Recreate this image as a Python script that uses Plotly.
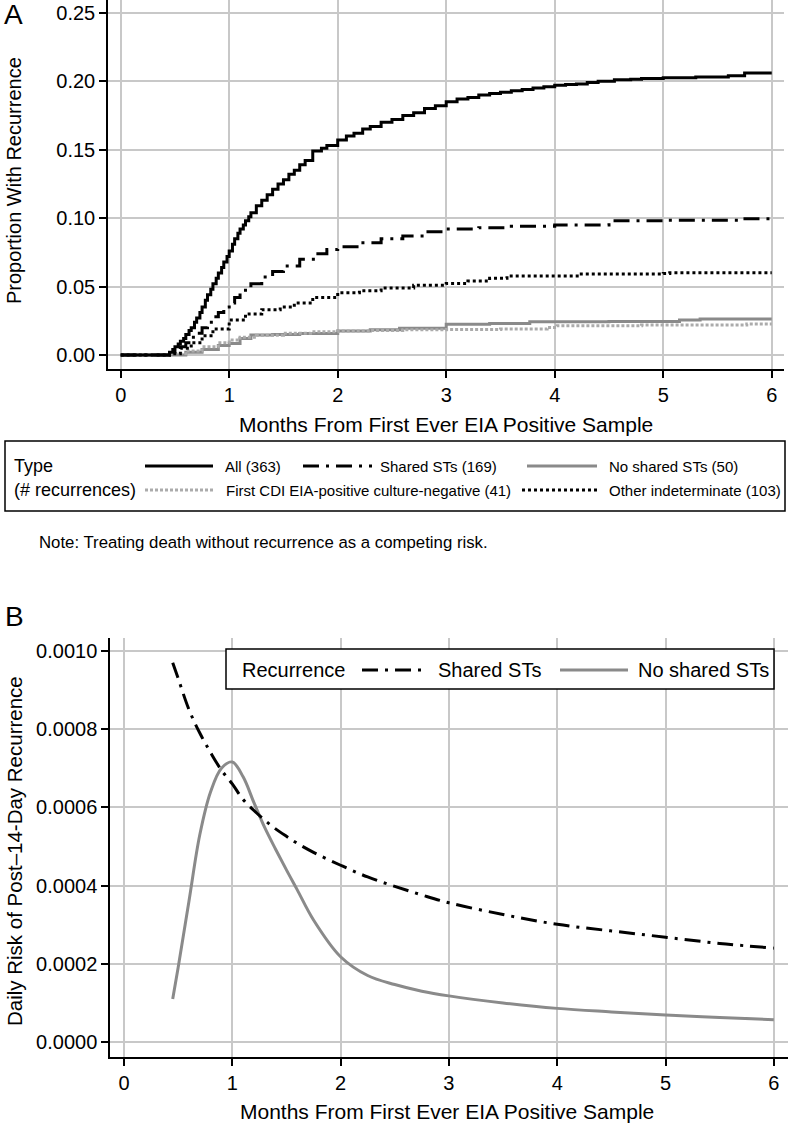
import plotly.graph_objects as go

W, H = 788, 1123

# ---------------- Panel A data (cumulative incidence, step curves) ----------------
all_t = [0, 0.45, 0.48, 0.5, 0.53, 0.55, 0.58, 0.6, 0.63, 0.65, 0.68, 0.7, 0.73, 0.75, 0.78, 0.8,
         0.83, 0.85, 0.88, 0.9, 0.93, 0.95, 0.98, 1.0, 1.03, 1.05, 1.08, 1.1, 1.13, 1.15, 1.18, 1.2,
         1.25, 1.3, 1.35, 1.4, 1.45, 1.5, 1.55, 1.6, 1.65, 1.7, 1.77, 1.85, 1.9, 2.0, 2.08, 2.15,
         2.23, 2.3, 2.4, 2.5, 2.6, 2.7, 2.8, 2.9, 3.0, 3.1, 3.2, 3.3, 3.4, 3.5, 3.6, 3.7, 3.8, 3.9,
         4.0, 4.1, 4.2, 4.3, 4.4, 4.55, 4.7, 4.8, 5.0, 5.3, 5.6, 5.75, 6.0]
all_v = [0, 0.002, 0.004, 0.006, 0.008, 0.010, 0.012, 0.015, 0.018, 0.020, 0.024, 0.027, 0.031,
         0.035, 0.040, 0.044, 0.048, 0.052, 0.056, 0.060, 0.064, 0.068, 0.072, 0.076, 0.081, 0.085,
         0.089, 0.092, 0.095, 0.098, 0.101, 0.104, 0.109, 0.113, 0.117, 0.121, 0.125, 0.128, 0.132,
         0.135, 0.139, 0.142, 0.149, 0.151, 0.153, 0.157, 0.160, 0.162, 0.165, 0.167, 0.170, 0.172,
         0.175, 0.177, 0.180, 0.182, 0.185, 0.187, 0.188, 0.190, 0.191, 0.192, 0.193, 0.194, 0.195,
         0.196, 0.197, 0.1975, 0.198, 0.199, 0.200, 0.201, 0.2015, 0.202, 0.2025, 0.203, 0.204,
         0.206, 0.206]

shared_t = [0, 0.45, 0.5, 0.55, 0.6, 0.65, 0.7, 0.75, 0.8, 0.85, 0.9, 0.95, 1.0, 1.05, 1.1, 1.15,
            1.2, 1.3, 1.4, 1.5, 1.65, 1.8, 1.9, 2.0, 2.2, 2.4, 2.6, 2.8, 3.0, 3.3, 3.6, 4.0, 4.4,
            4.5, 5.0, 5.5, 5.7, 6.0]
shared_v = [0, 0.001, 0.003, 0.006, 0.009, 0.013, 0.016, 0.020, 0.024, 0.028, 0.031, 0.035, 0.038,
            0.042, 0.046, 0.049, 0.052, 0.057, 0.061, 0.065, 0.070, 0.074, 0.077, 0.079, 0.082,
            0.085, 0.087, 0.090, 0.092, 0.093, 0.094, 0.095, 0.095, 0.098, 0.0985, 0.0985, 0.0995,
            0.0995]

other_t = [0, 0.45, 0.55, 0.65, 0.75, 0.85, 1.0, 1.15, 1.3, 1.47, 1.6, 1.77, 2.0, 2.2, 2.4, 2.7,
           3.0, 3.2, 3.4, 3.56, 4.0, 4.23, 5.0, 5.06, 6.0]
other_v = [0, 0.001, 0.005, 0.009, 0.014, 0.019, 0.0255, 0.030, 0.033, 0.035, 0.038, 0.042, 0.0455,
           0.047, 0.049, 0.051, 0.0523, 0.054, 0.056, 0.0577, 0.0577, 0.0591, 0.0596, 0.0601, 0.0601]

noshared_t = [0, 0.45, 0.6, 0.75, 0.9, 1.0, 1.1, 1.2, 1.4, 1.65, 2.0, 2.3, 2.57, 3.0, 3.4, 3.77,
              4.5, 5.15, 5.34, 6.0]
noshared_v = [0, 0.0, 0.002, 0.004, 0.007, 0.0085, 0.012, 0.0146, 0.015, 0.0157, 0.0175, 0.0185,
              0.0195, 0.0224, 0.023, 0.0243, 0.0245, 0.0255, 0.0263, 0.0263]

firstcdi_t = [0, 0.45, 0.6, 0.75, 0.9, 1.0, 1.1, 1.25, 1.5, 1.75, 2.0, 2.3, 2.6, 3.0, 3.5, 3.93,
              4.02, 4.8, 5.77, 6.0]
firstcdi_v = [0, 0.001, 0.003, 0.006, 0.009, 0.011, 0.013, 0.0145, 0.016, 0.017, 0.0175, 0.018,
              0.0185, 0.0187, 0.019, 0.0202, 0.0214, 0.022, 0.0226, 0.0226]

a_ticks_x = [0, 1, 2, 3, 4, 5, 6]
a_ticks_y = [0.00, 0.05, 0.10, 0.15, 0.20, 0.25]

# ---------------- Panel B data (daily risk) ----------------
b_t = [0.45, 0.5, 0.6, 0.7, 0.8, 0.9, 1.0, 1.1, 1.2, 1.3, 1.4, 1.5, 1.6, 1.75, 2.0, 2.25, 2.5,
       2.75, 3.0, 3.5, 4.0, 4.5, 5.0, 5.5, 6.0]
b_shared = [0.00097, 0.00093, 0.00085, 0.00079, 0.00074, 0.000695, 0.00066, 0.00062, 0.000592,
            0.000567, 0.000545, 0.000526, 0.000508, 0.000485, 0.000452, 0.000422, 0.000398,
            0.000376, 0.000356, 0.000326, 0.000301, 0.000284, 0.000268, 0.000252, 0.00024]
b_noshared = [0.00011, 0.00019, 0.00036, 0.00053, 0.00064, 0.000700, 0.000716, 0.000678, 0.000612,
              0.000548, 0.000493, 0.00044, 0.000389, 0.000312, 0.000218, 0.00017, 0.000147,
              0.00013, 0.000118, 0.0001, 0.000086, 0.000077, 0.000069, 0.000063, 0.000057]
b_ticks_x = [0, 1, 2, 3, 4, 5, 6]
b_ticks_y = [0.0, 0.0002, 0.0004, 0.0006, 0.0008, 0.0010]

FONT = "Liberation Sans, Arial, sans-serif"
BLACK = "#000000"
GRAY = "#8a8a8a"
LGRAY = "#ababab"
GRID = "#c8c8c8"
DASHDOT = "16px,7px,3px,7px"


def PX(x):
    return x / W


def PY(y):
    return 1 - y / H


fig = go.Figure()

# Panel A traces (gray first so black lies on top)
fig.add_trace(go.Scatter(x=noshared_t, y=noshared_v, mode="lines", line_shape="hv",
                         line=dict(color=GRAY, width=3), xaxis="x", yaxis="y", showlegend=False))
fig.add_trace(go.Scatter(x=firstcdi_t, y=firstcdi_v, mode="lines", line_shape="hv",
                         line=dict(color=LGRAY, width=3, dash="3px,2px"), xaxis="x", yaxis="y",
                         showlegend=False))
fig.add_trace(go.Scatter(x=other_t, y=other_v, mode="lines", line_shape="hv",
                         line=dict(color=BLACK, width=3, dash="3px,3px"), xaxis="x", yaxis="y",
                         showlegend=False))
fig.add_trace(go.Scatter(x=shared_t, y=shared_v, mode="lines", line_shape="hv",
                         line=dict(color=BLACK, width=3, dash=DASHDOT), xaxis="x", yaxis="y",
                         showlegend=False))
fig.add_trace(go.Scatter(x=all_t, y=all_v, mode="lines", line_shape="hv",
                         line=dict(color=BLACK, width=3), xaxis="x", yaxis="y", showlegend=False))

# Panel B traces
fig.add_trace(go.Scatter(x=b_t, y=b_noshared, mode="lines", line_shape="spline",
                         line=dict(color=GRAY, width=3, smoothing=1), xaxis="x2", yaxis="y2",
                         showlegend=False))
fig.add_trace(go.Scatter(x=b_t, y=b_shared, mode="lines", line_shape="spline",
                         line=dict(color=BLACK, width=3, dash=DASHDOT, smoothing=1),
                         xaxis="x2", yaxis="y2", showlegend=False))

axis_common = dict(showgrid=True, gridcolor=GRID, gridwidth=1.5, zeroline=False, showline=True,
                   linecolor=BLACK, linewidth=1.5, ticks="outside", ticklen=7, tickwidth=1.5,
                   tickcolor=BLACK, tickfont=dict(family=FONT, size=20, color=BLACK))

fig.update_layout(
    width=W, height=H, margin=dict(l=0, r=0, t=0, b=0),
    paper_bgcolor="white", plot_bgcolor="white",
    xaxis=dict(domain=[PX(108), PX(784)], range=[-0.117, 6.113], tickvals=a_ticks_x,
               anchor="y", **axis_common),
    yaxis=dict(domain=[PY(369), PY(0)], range=[-0.0102, 0.2593], tickvals=a_ticks_y,
               tickformat=".2f", anchor="x", **axis_common),
    xaxis2=dict(domain=[PX(110), PX(788)], range=[-0.129, 6.131], tickvals=b_ticks_x,
                anchor="y2", **axis_common),
    yaxis2=dict(domain=[PY(1057), PY(638)], range=[-0.0000383, 0.001033], tickvals=b_ticks_y,
                tickformat=".4f", anchor="x2", **axis_common),
)

ann = []
shapes = []


def text(x, y, s, size=20, xanchor="left", yanchor="middle", angle=0):
    ann.append(dict(x=PX(x), y=PY(y), xref="paper", yref="paper", text=s, showarrow=False,
                    xanchor=xanchor, yanchor=yanchor, textangle=angle,
                    font=dict(family=FONT, size=size, color=BLACK)))


def seg(x0, x1, y, color, width, dash="solid"):
    shapes.append(dict(type="line", xref="paper", yref="paper", x0=PX(x0), x1=PX(x1),
                       y0=PY(y), y1=PY(y), line=dict(color=color, width=width, dash=dash)))


def box(x0, y0, x1, y1, fill="rgba(0,0,0,0)"):
    shapes.append(dict(type="rect", xref="paper", yref="paper", x0=PX(x0), x1=PX(x1),
                       y0=PY(y1), y1=PY(y0), line=dict(color=BLACK, width=1.5),
                       fillcolor=fill))


# Panel labels
text(2, 14, "A", size=28)
text(3, 616, "B", size=28)

# Panel A titles
text(14, 181, "Proportion With Recurrence", size=20, xanchor="center", angle=-90)
text(446, 424, "Months From First Ever EIA Positive Sample", size=21, xanchor="center")

# Panel A legend
box(5, 441, 785, 511)
text(12, 466, "Type", size=18)
text(12, 490, "(# recurrences)", size=18)
seg(145, 213, 466, BLACK, 3)
text(223, 466, "All (363)", size=15)
seg(303, 372, 466, BLACK, 3, DASHDOT)
text(378, 466, "Shared STs (169)", size=15)
seg(527, 597, 466, GRAY, 3)
text(607, 466, "No shared STs (50)", size=15)
seg(145, 213, 490, LGRAY, 3, "3px,2px")
text(224, 490, "First CDI EIA-positive culture-negative (41)", size=15)
seg(522, 597, 490, BLACK, 3, "3px,3px")
text(607, 490, "Other indeterminate (103)", size=15)

# Note
text(37, 542, "Note: Treating death without recurrence as a competing risk.", size=16.8)

# Panel B titles
text(14, 851, "Daily Risk of Post\u201314-Day Recurrence", size=20.5, xanchor="center", angle=-90)
text(447, 1111, "Months From First Ever EIA Positive Sample", size=21, xanchor="center")

# Panel B legend
box(226, 649, 774, 689, fill="white")
text(240, 670, "Recurrence", size=20)
seg(362, 427, 670, BLACK, 3, DASHDOT)
text(436, 670, "Shared STs", size=20)
seg(560, 628, 670, GRAY, 3)
text(636, 670, "No shared STs", size=20)

fig.update_layout(annotations=ann, shapes=shapes)

fig.write_html("out.html", config={"displayModeBar": False},
               post_script="document.body.style.margin='0';document.body.style.padding='0';"
                           "document.body.style.overflow='hidden';")
